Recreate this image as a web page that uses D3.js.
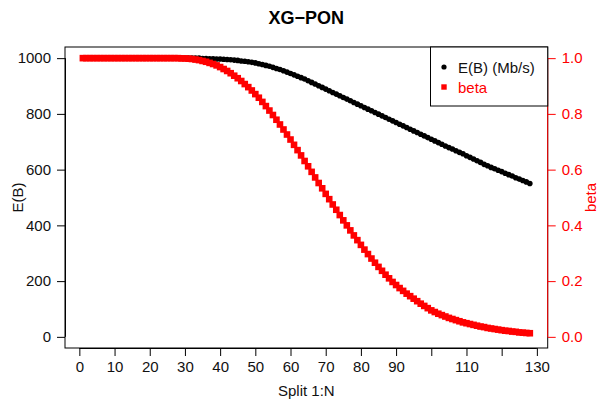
<!DOCTYPE html>
<html>
<head>
<meta charset="utf-8">
<script src="https://cdn.jsdelivr.net/npm/d3@7"></script>
<style>
  html, body { margin: 0; padding: 0; background: #fff; }
  svg { display: block; font-family: "Liberation Sans", Arial, sans-serif; }
</style>
</head>
<body>
<svg id="chart" width="598" height="405"></svg>
<script>
// Split ratio 1:N for N = 1..128
const splits = d3.range(1, 129);

// Expected bandwidth per user E(B), Mb/s
const expectedBandwidth = [
  1000, 1000, 1000, 1000, 1000, 1000, 1000, 1000, 1000, 1000,
  1000, 1000, 1000, 1000, 1000, 1000, 1000, 1000, 1000, 1000,
  1000, 1000, 1000, 1000, 1000, 1000, 1000, 1000, 1000, 1000,
  1000, 1000, 1000, 1000, 999, 999, 998, 998, 997, 997,
  996, 995, 994, 993, 992, 990, 989, 987, 985, 983,
  980, 977, 974, 971, 967, 963, 959, 955, 950, 945,
  940, 935, 930, 925, 919, 913, 907, 901, 895, 889,
  883, 877, 871, 865, 859, 853, 847, 841, 835, 829,
  823, 817, 811, 805, 799, 793, 787, 781, 775, 769,
  763, 757, 751, 745, 739, 733, 727, 721, 715, 709,
  703, 697, 691, 685, 679, 674, 668, 662, 657, 650,
  644, 638, 632, 626, 619, 614, 608, 603, 598, 593,
  587, 582, 577, 571, 566, 561, 556, 550
];

// Probability beta that a user gets the full rate
const beta = [
  1.000, 1.000, 1.000, 1.000, 1.000, 1.000, 1.000, 1.000, 1.000, 1.000,
  1.000, 1.000, 1.000, 1.000, 1.000, 1.000, 1.000, 1.000, 1.000, 1.000,
  1.000, 1.000, 1.000, 1.000, 1.000, 1.000, 1.000, 1.000, 0.999, 0.999,
  0.998, 0.997, 0.995, 0.993, 0.990, 0.987, 0.983, 0.979, 0.974, 0.968,
  0.961, 0.954, 0.946, 0.937, 0.928, 0.918, 0.907, 0.896, 0.884, 0.871,
  0.858, 0.843, 0.828, 0.812, 0.796, 0.779, 0.762, 0.744, 0.726, 0.708,
  0.689, 0.670, 0.651, 0.631, 0.612, 0.592, 0.572, 0.552, 0.533, 0.513,
  0.494, 0.475, 0.456, 0.437, 0.418, 0.400, 0.382, 0.364, 0.347, 0.330,
  0.313, 0.297, 0.281, 0.266, 0.251, 0.237, 0.223, 0.210, 0.197, 0.186,
  0.175, 0.165, 0.155, 0.146, 0.137, 0.128, 0.119, 0.111, 0.103, 0.095,
  0.089, 0.083, 0.078, 0.073, 0.068, 0.064, 0.060, 0.056, 0.052, 0.049,
  0.046, 0.043, 0.040, 0.037, 0.035, 0.032, 0.030, 0.028, 0.026, 0.024,
  0.022, 0.021, 0.019, 0.018, 0.016, 0.015, 0.014, 0.013
];

const xTicks = [0, 10, 20, 30, 40, 50, 60, 70, 80, 90, 100, 110, 120, 130];
const xTickLabels = ["0", "10", "20", "30", "40", "50", "60", "70", "80", "90", "", "110", "", "130"];
const leftTicks = [0, 200, 400, 600, 800, 1000];
const rightTicks = [0.0, 0.2, 0.4, 0.6, 0.8, 1.0];

const svg = d3.select("#chart");
const box = { left: 65, right: 547.7, top: 47, bottom: 348 };
const fontSize = 15;

// 4% padding on each side, like R's default axis extension
const xPad = 0.04 * (d3.max(splits) - d3.min(splits));
const x = d3.scaleLinear()
  .domain([d3.min(splits) - xPad, d3.max(splits) + xPad])
  .range([box.left, box.right]);
const yLeft = d3.scaleLinear().domain([-40, 1040]).range([box.bottom, box.top]);
const yRight = d3.scaleLinear().domain([-0.04, 1.04]).range([box.bottom, box.top]);

// Title
svg.append("text")
  .attr("x", (box.left + box.right) / 2)
  .attr("y", 24)
  .attr("text-anchor", "middle")
  .attr("font-weight", "bold")
  .attr("font-size", 18)
  .text("XG\u2212PON");

// E(B) series: small filled dots
svg.append("g")
  .selectAll("circle")
  .data(splits)
  .join("circle")
  .attr("cx", (d) => x(d))
  .attr("cy", (d, i) => yLeft(expectedBandwidth[i]))
  .attr("r", 2.8)
  .attr("fill", "#000");

// beta series: filled squares
const sq = 6.6;
svg.append("g")
  .selectAll("rect")
  .data(splits)
  .join("rect")
  .attr("x", (d) => x(d) - sq / 2)
  .attr("y", (d, i) => yRight(beta[i]) - sq / 2)
  .attr("width", sq)
  .attr("height", sq)
  .attr("fill", "#ff0000");

// Plot frame
svg.append("rect")
  .attr("x", box.left)
  .attr("y", box.top)
  .attr("width", box.right - box.left)
  .attr("height", box.bottom - box.top)
  .attr("fill", "none")
  .attr("stroke", "#000")
  .attr("stroke-width", 1);

// Bottom axis
const xAxis = svg.append("g")
  .attr("transform", `translate(0,${box.bottom})`)
  .call(d3.axisBottom(x)
    .tickValues(xTicks)
    .tickSize(8)
    .tickPadding(5)
    .tickFormat((d, i) => xTickLabels[i]));
xAxis.select(".domain").attr("d", `M${x(0)},0.5H${x(130)}`);
xAxis.selectAll("text").attr("font-size", fontSize).attr("font-family", null).attr("fill", "#111");

// Left axis
const leftAxis = svg.append("g")
  .attr("transform", `translate(${box.left},0)`)
  .call(d3.axisLeft(yLeft)
    .tickValues(leftTicks)
    .tickSize(8)
    .tickPadding(6)
    .tickFormat(d3.format("d")));
leftAxis.select(".domain").attr("d", `M0.5,${yLeft(0)}V${yLeft(1000)}`);
leftAxis.selectAll("text").attr("font-size", fontSize).attr("font-family", null).attr("fill", "#111");

// Right axis (beta), drawn in red
const rightAxis = svg.append("g")
  .attr("transform", `translate(${box.right},0)`)
  .call(d3.axisRight(yRight)
    .tickValues(rightTicks)
    .tickSize(8)
    .tickPadding(6)
    .tickFormat(d3.format(".1f")));
rightAxis.select(".domain")
  .attr("d", `M0,${yRight(0)}V${yRight(1)}`)
  .attr("stroke", "#ff0000");
rightAxis.selectAll(".tick line").attr("stroke", "#ff0000");
rightAxis.selectAll("text")
  .attr("font-size", fontSize)
  .attr("font-family", null)
  .attr("fill", "#ff0000");

// Axis titles
svg.append("text")
  .attr("x", (box.left + box.right) / 2)
  .attr("y", 396)
  .attr("text-anchor", "middle")
  .attr("font-size", fontSize)
  .attr("fill", "#111")
  .text("Split 1:N");

svg.append("text")
  .attr("transform", `translate(23,${(box.top + box.bottom) / 2}) rotate(-90)`)
  .attr("text-anchor", "middle")
  .attr("font-size", fontSize)
  .attr("fill", "#111")
  .text("E(B)");

svg.append("text")
  .attr("transform", `translate(596,${(box.top + box.bottom) / 2}) rotate(-90)`)
  .attr("text-anchor", "middle")
  .attr("font-size", fontSize)
  .attr("fill", "#ff0000")
  .text("beta");

// Legend
const legend = svg.append("g");
legend.append("rect")
  .attr("x", 430.5)
  .attr("y", box.top)
  .attr("width", box.right - 430.5)
  .attr("height", 59)
  .attr("fill", "#fff")
  .attr("stroke", "#000");
legend.append("circle")
  .attr("cx", 444).attr("cy", 67).attr("r", 2.6).attr("fill", "#000");
legend.append("rect")
  .attr("x", 441.3).attr("y", 84.3).attr("width", 5.4).attr("height", 5.4).attr("fill", "#ff0000");
legend.append("text")
  .attr("x", 458).attr("y", 72.5)
  .attr("font-size", fontSize).attr("fill", "#111")
  .text("E(B) (Mb/s)");
legend.append("text")
  .attr("x", 458).attr("y", 92.5)
  .attr("font-size", fontSize).attr("fill", "#ff0000")
  .text("beta");
</script>
</body>
</html>
